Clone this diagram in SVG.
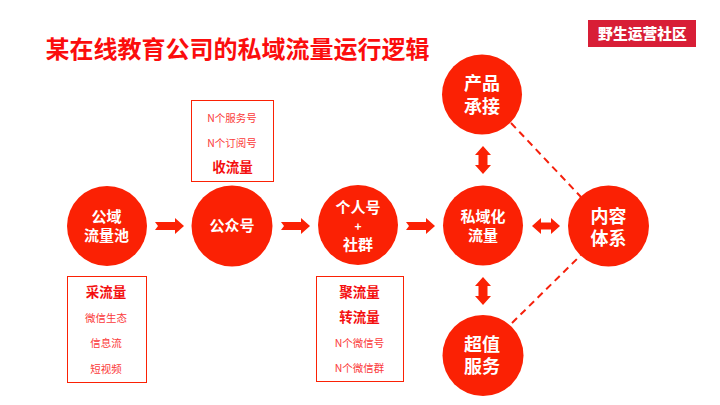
<svg xmlns="http://www.w3.org/2000/svg" width="720" height="405" viewBox="0 0 720 405">
<style>
text{font-family:"Noto Sans CJK SC","Liberation Sans",sans-serif;text-anchor:middle}
.c{fill:#fb2104}
.w{fill:#fff;font-weight:700}
.box{fill:#fff;stroke:#fb2104;stroke-width:1}
.s{fill:#fb3a3a;font-size:10.500px}
.b{fill:#f40f0f;font-size:13.500px;font-weight:700}
.a{fill:#fb2104}
.d{stroke:#f5200c;stroke-width:2;stroke-dasharray:7 5;fill:none}
</style>
<defs>
<path id="ar" d="M0 -4 L20 -4 L20 -8 L29 0 L20 8 L20 4 L0 4 L3 0 Z" class="a"/>
<path id="dv" d="M0 -14 L8 -5 L4.500 -5 L4.500 5 L8 5 L0 14 L-8 5 L-4.500 5 L-4.500 -5 L-8 -5 Z" class="a"/>
<path id="dh" d="M-14 0 L-5 -8 L-5 -3.500 L5 -3.500 L5 -8 L14 0 L5 8 L5 3.500 L-5 3.500 L-5 8 Z" class="a"/>
</defs>
<rect width="720" height="405" fill="#fff"/>
<text id="title" x="237.500" y="57.500" style="font-size:24px;font-weight:700;fill:#fb0d0d">某在线教育公司的私域流量运行逻辑</text>
<g id="logo"><rect x="588" y="20" width="108" height="27" fill="#d81e36"/><text x="642.500" y="38.500" style="font-size:14.800px;font-weight:900;fill:#fff">野生运营社区</text></g>
<g id="connectors">
<use href="#ar" x="155" y="226"/>
<use href="#ar" x="281" y="226"/>
<use href="#ar" x="406" y="226"/>
<use href="#dv" x="483" y="160"/>
<use href="#dv" x="483" y="291"/>
<use href="#dh" x="546" y="226"/>
<line class="d" x1="511" y1="123" x2="581" y2="197"/>
<line class="d" x1="512" y1="323" x2="581" y2="255"/>
</g>
<g id="box-shou"><rect class="box" x="191.500" y="100.500" width="82" height="81"/><text class="s" x="232" y="121.500">N个服务号</text><text class="s" x="232" y="147">N个订阅号</text><text class="b" x="232.500" y="172">收流量</text></g>
<g id="box-cai"><rect class="box" x="67.500" y="276.500" width="79" height="106"/><text class="b" x="106" y="297">采流量</text><text class="s" x="106" y="322">微信生态</text><text class="s" x="106" y="347">信息流</text><text class="s" x="106" y="373">短视频</text></g>
<g id="box-ju"><rect class="box" x="316.500" y="276.500" width="87" height="105"/><text class="b" x="359.500" y="297">聚流量</text><text class="b" x="359.500" y="322">转流量</text><text class="s" x="359.500" y="347">N个微信号</text><text class="s" x="359.500" y="372">N个微信群</text></g>
<g id="n-gongyu"><circle class="c" cx="107" cy="226" r="40"/><text class="w" style="font-size:15px" x="106.500" y="222">公域<tspan x="106.500" dy="19">流量池</tspan></text></g>
<g id="n-gongzhong"><circle class="c" cx="232" cy="226" r="40.500"/><text class="w" style="font-size:15px" x="232" y="231">公众号</text></g>
<g id="n-geren"><circle class="c" cx="358" cy="225" r="40"/><text class="w" style="font-size:15px" x="358" y="213">个人号<tspan x="358" dy="18" style="font-size:12px">+</tspan><tspan x="358" dy="19">社群</tspan></text></g>
<g id="n-siyu"><circle class="c" cx="483" cy="225.500" r="40"/><text class="w" style="font-size:15px" x="483" y="222">私域化<tspan x="483" dy="19">流量</tspan></text></g>
<g id="n-neirong"><circle class="c" cx="608.500" cy="226" r="40.500"/><text class="w" style="font-size:18px" x="608.500" y="223">内容<tspan x="608.500" dy="22">体系</tspan></text></g>
<g id="n-chanpin"><circle class="c" cx="482" cy="94.500" r="40"/><text class="w" style="font-size:18px" x="482" y="90">产品<tspan x="482" dy="22.500">承接</tspan></text></g>
<g id="n-chaozhi"><circle class="c" cx="483" cy="355.500" r="40.500"/><text class="w" style="font-size:18px" x="482" y="350.500">超值<tspan x="482" dy="22.500">服务</tspan></text></g>
</svg>
